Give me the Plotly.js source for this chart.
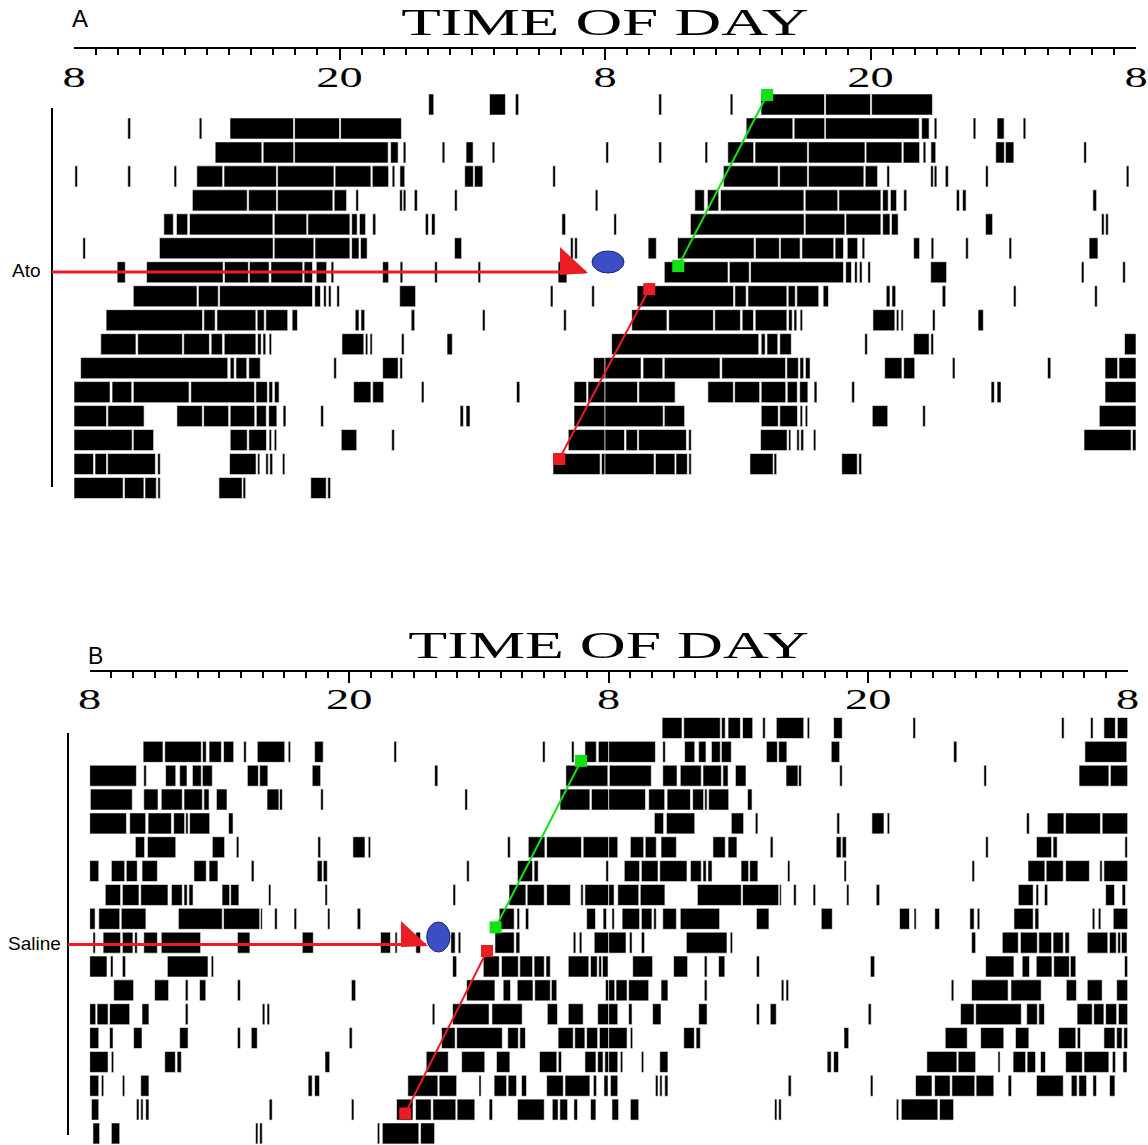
<!DOCTYPE html>
<html>
<head>
<meta charset="utf-8">
<script src="https://cdn.plot.ly/plotly-3.0.1.min.js"></script>
<style>
  html, body { margin: 0; padding: 0; background: #ffffff; }
  #chart { width: 1148px; height: 1145px; }
</style>
</head>
<body>
<div id="chart"></div>
<script>
// Double-plotted actograms: each day's activity bouts as [start, end] in hours after 08:00.
// Row r shows day r-1 on the left half (0-24 h) and day r on the right half (24-48 h).

const atoDays = [
  [[16.03,16.26],[18.78,19.5],[19.95,20.1]],
  [[2.43,2.56],[5.66,5.78],[7.05,9.92],[9.97,12.0],[12.05,14.8]],
  [[6.38,8.49],[8.55,9.93],[9.97,14.2],[14.31,14.65],[14.88,15.0],[16.64,16.76],[17.72,18.04],[18.9,19.02]],
  [[0.04,0.16],[2.43,2.56],[4.52,4.64],[5.55,6.72],[6.78,9.15],[9.2,11.75],[11.8,13.42],[13.48,14.22],[14.38,14.5],[14.73,14.95],[17.66,18.05],[18.1,18.48],[21.64,21.76]],
  [[5.35,7.83],[7.89,9.15],[9.2,11.7],[11.76,12.32],[12.74,12.86],[14.72,14.84],[14.88,15.0],[15.38,15.52],[17.2,17.32],[23.56,23.68]],
  [[4.06,4.49],[4.63,5.14],[5.22,8.99],[9.05,10.52],[10.57,12.47],[12.55,12.8],[12.9,13.18],[13.5,13.64],[15.88,16.02],[16.16,16.32],[22.05,22.22]],
  [[0.4,0.52],[3.86,9.0],[9.05,10.84],[10.89,12.47],[12.55,12.88],[12.95,13.25],[17.2,17.52],[22.44,22.56],[22.63,22.75]],
  [[1.95,2.32],[3.28,6.74],[6.8,7.88],[7.93,8.82],[8.9,10.34],[10.4,10.78],[10.95,11.42],[11.62,11.74],[13.95,14.22],[14.74,14.86],[16.3,16.42],[18.26,18.38],[21.88,22.28]],
  [[2.68,5.56],[5.62,6.52],[6.58,10.78],[10.88,11.14],[11.28,11.4],[11.5,11.62],[11.88,12.0],[14.72,15.44],[21.53,21.65],[23.4,23.52]],
  [[1.45,5.81],[5.87,6.38],[6.46,8.22],[8.28,8.6],[8.67,9.66],[9.86,10.1],[12.71,12.88],[12.97,13.14],[15.24,15.4],[18.46,18.58],[22.13,22.25]],
  [[1.21,2.8],[2.88,4.9],[4.96,6.12],[6.2,6.71],[6.79,8.22],[8.3,8.46],[8.54,8.67],[8.82,8.93],[12.11,13.1],[13.17,13.28],[13.38,13.48],[14.8,14.92],[16.86,17.1]],
  [[0.3,6.95],[7.06,7.24],[7.32,7.81],[7.9,8.42],[11.74,11.86],[13.95,14.65],[14.73,14.85],[23.48,24]],
  [[0,1.63],[1.72,2.61],[2.68,5.2],[5.28,8.16],[8.22,8.74],[8.81,8.98],[9.06,9.27],[12.64,13.42],[13.5,14.0],[15.7,15.82],[20.0,20.15],[22.6,23.17],[23.23,24]],
  [[0,1.47],[1.53,3.17],[4.65,5.8],[5.86,6.99],[7.06,8.17],[8.24,8.69],[8.8,9.17],[9.45,9.58],[11.15,11.28],[17.45,17.6],[17.72,17.9],[22.6,24]],
  [[0,2.63],[2.68,3.6],[7.06,7.83],[7.9,8.7],[8.82,8.93],[9.05,9.16],[12.08,12.78],[14.36,14.48],[22.34,24]],
  [[0,0.88],[0.95,1.47],[1.52,3.68],[3.78,3.9],[7.03,8.23],[8.3,8.4],[8.67,8.78],[8.85,8.98],[9.42,9.53],[21.65,23.78],[23.84,24]],
  [[0,2.22],[2.28,3.16],[3.21,3.72],[3.79,3.9],[6.55,7.6],[7.64,7.76],[10.7,11.4],[11.47,11.6]]
];

const salineDays = [
  [],
  [[2.47,3.39],[3.47,5.16],[5.22,5.39],[5.52,6.09],[6.19,6.66],[7.12,7.24],[7.75,9.02],[9.18,9.29],[10.4,10.8],[14.07,14.19],[20.94,21.06],[22.28,22.4],[22.9,23.43],[23.52,24]],
  [[0,2.16],[2.5,2.62],[3.51,3.98],[4.16,4.5],[4.75,5.16],[5.21,5.67],[7.29,7.8],[7.86,8.24],[10.29,10.68],[15.95,16.1],[22.02,23.96]],
  [[0.03,1.97],[2.5,3.16],[3.31,4.28],[4.36,5.21],[5.28,5.52],[5.86,6.35],[8.2,8.75],[8.78,8.91],[10.68,10.8],[17.35,17.47],[21.75,23.13],[23.2,24]],
  [[0,1.7],[1.85,2.59],[2.7,3.78],[3.88,4.39],[4.44,4.55],[4.62,5.55],[6.42,6.63]],
  [[2.11,2.54],[2.67,3.98],[5.67,6.24],[6.78,6.9],[10.55,10.68],[12.17,12.73],[12.88,12.99],[19.32,19.45],[20.28,21.05],[21.13,22.74],[22.82,24]],
  [[0,0.42],[1.0,1.62],[1.69,2.2],[2.42,3.13],[4.82,5.39],[5.52,5.93],[7.47,7.6],[10.52,10.75],[10.8,10.99],[17.43,17.55],[19.78,20.48],[20.55,20.74],[23.87,23.99]],
  [[0.72,1.43],[1.51,2.28],[2.36,3.62],[3.78,4.28],[4.36,4.51],[4.59,4.78],[6.12,6.47],[6.52,6.9],[8.27,8.38],[10.88,10.99],[16.8,16.92],[19.39,20.17],[20.23,21.02],[21.13,22.23],[22.71,22.82],[22.9,24]],
  [[0,0.25],[0.42,1.39],[1.46,2.6],[4.1,6.13],[6.19,7.86],[7.9,7.98],[8.55,8.67],[9.45,9.57],[11.0,11.11],[12.37,12.53],[18.94,19.63],[19.76,19.88],[20.15,20.3],[22.98,23.39],[23.74,23.9]],
  [[0.15,0.26],[0.62,1.43],[1.51,2.0],[2.08,2.2],[2.5,3.13],[3.31,5.13],[6.83,7.41],[9.83,10.34],[13.45,13.91],[14.12,14.22],[15.08,15.3],[16.7,16.9],[17.04,17.16],[18.74,19.63],[19.71,19.89],[22.36,22.48],[22.64,22.76],[23.33,24]],
  [[0,0.8],[0.96,1.08],[1.51,1.66],[3.59,5.47],[5.62,5.73],[16.78,16.97],[18.2,18.94],[19.04,19.82],[19.89,20.48],[20.55,21.02],[21.1,21.3],[22.13,23.08],[23.16,23.47],[23.54,23.67],[23.71,23.97]],
  [[1.11,2.03],[3.0,3.65],[4.42,4.55],[5.08,5.37],[6.83,6.97],[12.1,12.3],[17.43,18.74],[19.12,19.46],[19.77,20.5],[20.58,21.3],[21.35,21.6],[23.85,24]],
  [[0,0.28],[0.34,0.85],[0.92,1.85],[2.42,2.74],[4.42,4.55],[7.98,8.1],[8.2,8.32],[15.84,15.96],[16.78,18.47],[18.6,20.0],[21.16,21.63],[22.13,22.82],[23.49,24]],
  [[0,0.42],[0.92,1.08],[2.03,2.42],[4.16,4.55],[6.83,6.97],[7.47,7.75],[12.0,12.14],[16.27,16.9],[16.97,19.08],[19.33,19.82],[19.89,20.15],[21.66,22.36],[22.43,22.9],[22.98,23.49],[23.57,24]],
  [[0,0.85],[1.0,1.11],[3.47,3.96],[4.04,4.24],[10.88,11.1],[15.56,16.58],[17.2,18.27],[18.81,19.43],[20.8,21.6],[21.67,21.82],[22.9,23.41],[23.49,23.74],[23.82,24]],
  [[0,0.42],[0.54,0.65],[1.51,1.62],[2.36,2.74],[10.1,10.29],[10.4,10.63],[14.71,16.1],[16.16,16.97],[18.0,18.1],[18.7,19.28],[19.35,19.74],[19.97,20.2],[21.13,21.9],[21.98,23.13],[23.29,23.44],[23.78,23.97]],
  [[0.08,0.42],[2.16,2.28],[2.36,2.47],[2.59,2.74],[8.3,8.44],[12.1,12.22],[14.19,14.95],[15.07,15.79],[15.87,16.93],[16.99,17.81],[18.47,18.63],[19.78,21.02],[21.39,21.66],[21.74,22.1],[22.39,22.56],[23.16,23.41]],
  [[0.15,0.46],[1.0,1.39],[7.67,7.78],[7.86,7.98],[13.3,13.41],[13.53,15.22],[15.3,15.95]]
];

const atoRows = 17;
const salineRows = 18;

// Axis ticks: hours after 08:00 and the clock labels shown
const clockTickHours = [0, 12, 24, 36, 48];
const clockTickText = ['8', '20', '8', '20', '8'];

// Activity-onset fits (hour, row) drawn across the plots
const atoGreenHours = [27.31, 31.33], atoGreenRows = [7.74, 0.60];
const atoRedHours = [26.0, 21.93], atoRedRows = [8.70, 15.79];
const salGreenHours = [22.72, 18.77], salGreenRows = [2.38, 9.36];
const salRedHours = [18.37, 14.59], salRedRows = [10.35, 17.16];

const W = 1148, H = 1145;
const px = x => x / W;
const py = y => 1 - y / H;

function doublePlot(days, nRows) {
  const y = [], base = [], len = [];
  for (let r = 1; r <= nRows; r++) {
    [[days[r - 1], 0], [days[r], 24]].forEach(([segs, off]) => {
      if (!segs) return;
      segs.forEach(([s, e]) => { y.push(r); base.push(s + off); len.push(e - s); });
    });
  }
  return { y, base, len };
}

function barTrace(days, nRows, xa, ya) {
  const d = doublePlot(days, nRows);
  return {
    type: 'bar', orientation: 'h',
    x: d.len, base: d.base, y: d.y,
    xaxis: xa, yaxis: ya, width: 0.88,
    marker: { color: '#000000', line: { color: '#ffffff', width: 0.6 } },
    hoverinfo: 'skip', showlegend: false
  };
}

function onsetTrace(xs, ys, color, xa, ya) {
  return {
    type: 'scatter', mode: 'lines+markers', x: xs, y: ys, xaxis: xa, yaxis: ya,
    line: { color: color, width: 2 },
    marker: { symbol: 'square', size: 12, color: color },
    hoverinfo: 'skip', showlegend: false
  };
}

const GREEN = '#12e212', RED = '#ec1c24', BLUE = '#3c4dc6';

const traces = [
  barTrace(atoDays, atoRows, 'x', 'y'),
  barTrace(salineDays, salineRows, 'x2', 'y2'),
  onsetTrace(atoGreenHours, atoGreenRows, GREEN, 'x', 'y'),
  onsetTrace(atoRedHours, atoRedRows, RED, 'x', 'y'),
  onsetTrace(salGreenHours, salGreenRows, GREEN, 'x2', 'y2'),
  onsetTrace(salRedHours, salRedRows, RED, 'x2', 'y2')
];

function timeAxis(domain, anchor) {
  return {
    domain: domain, range: [0, 48], anchor: anchor, side: 'top',
    showline: true, linecolor: '#000', linewidth: 2, mirror: false,
    showgrid: false, zeroline: false, fixedrange: true,
    tickmode: 'array', tickvals: clockTickHours, ticktext: clockTickText,
    ticks: 'inside', ticklen: 11, tickwidth: 2, tickcolor: '#000',
    ticklabelposition: 'inside', ticklabeloverflow: 'allow', ticklabelstandoff: 9,
    tickfont: { family: 'Liberation Serif, Times New Roman, serif', size: 29, color: '#000' },
    minor: { tickmode: 'linear', tick0: 0, dtick: 1, ticks: 'inside', ticklen: 6, tickwidth: 2, tickcolor: '#000', showgrid: false },
    title: { text: 'TIME OF DAY', standoff: 14,
             font: { family: 'Liberation Serif, Times New Roman, serif', size: 37, color: '#000' } }
  };
}

function label(text, x, y, size) {
  return { text: text, xref: 'paper', yref: 'paper', x: px(x), y: py(y),
           xanchor: 'center', yanchor: 'middle', showarrow: false,
           font: { family: 'Liberation Sans, Arial, sans-serif', size: size, color: '#000' } };
}

const layout = {
  width: W, height: H,
  margin: { l: 0, r: 0, t: 0, b: 0 },
  paper_bgcolor: '#ffffff', plot_bgcolor: 'rgba(0,0,0,0)',
  barmode: 'overlay', showlegend: false,
  xaxis: timeAxis([px(74), px(1136)], 'y'),
  yaxis: { domain: [py(500), py(49.3)], range: [17.5, -1.303], visible: false, fixedrange: true },
  xaxis2: timeAxis([px(89.7), px(1127.7)], 'y2'),
  yaxis2: { domain: [0, py(672)], range: [18.484, -1.348], visible: false, fixedrange: true },
  shapes: [
    // row-axis rules on the left
    { type: 'line', xref: 'paper', yref: 'paper', x0: px(52), x1: px(52), y0: py(108), y1: py(487), line: { color: '#000', width: 2 } },
    { type: 'line', xref: 'paper', yref: 'paper', x0: px(68), x1: px(68), y0: py(733), y1: py(1135), line: { color: '#000', width: 2 } },
    // treatment arrows
    { type: 'line', xref: 'paper', yref: 'paper', x0: px(52), x1: px(586), y0: py(272), y1: py(272), line: { color: RED, width: 3 } },
    { type: 'path', xref: 'paper', yref: 'paper',
      path: `M ${px(560)} ${py(247)} L ${px(588)} ${py(273)} L ${px(560)} ${py(275)} Z`,
      fillcolor: RED, line: { width: 0 } },
    { type: 'line', xref: 'paper', yref: 'paper', x0: px(68), x1: px(426), y0: py(944.5), y1: py(944.5), line: { color: RED, width: 3 } },
    { type: 'path', xref: 'paper', yref: 'paper',
      path: `M ${px(401)} ${py(921)} L ${px(428)} ${py(946)} L ${px(401)} ${py(947)} Z`,
      fillcolor: RED, line: { width: 0 } },
    // injection markers
    { type: 'circle', xref: 'paper', yref: 'paper', x0: px(592), x1: px(624), y0: py(251), y1: py(273),
      fillcolor: BLUE, line: { color: '#1d2870', width: 1 } },
    { type: 'circle', xref: 'paper', yref: 'paper', x0: px(426.7), x1: px(450), y0: py(922), y1: py(952),
      fillcolor: BLUE, line: { color: '#1d2870', width: 1 } }
  ],
  annotations: [
    label('A', 80, 18, 24),
    label('B', 95, 656, 23),
    label('Ato', 26, 271, 19),
    label('Saline', 34.5, 943, 19)
  ]
};

// Widen the serif lettering of the time axes
function stretchText(selector, factor) {
  document.querySelectorAll(selector).forEach(t => {
    const w = t.getComputedTextLength();
    if (w > 0) {
      t.setAttribute('textLength', (w * factor).toFixed(1));
      t.setAttribute('lengthAdjust', 'spacingAndGlyphs');
    }
  });
}

Plotly.newPlot('chart', traces, layout, { staticPlot: true, displayModeBar: false }).then(() => {
  stretchText('g.xtick text', 1.6);
  stretchText('g.x2tick text', 1.6);
  stretchText('.g-xtitle text', 1.75);
  stretchText('.g-x2title text', 1.72);
});
</script>
</body>
</html>
